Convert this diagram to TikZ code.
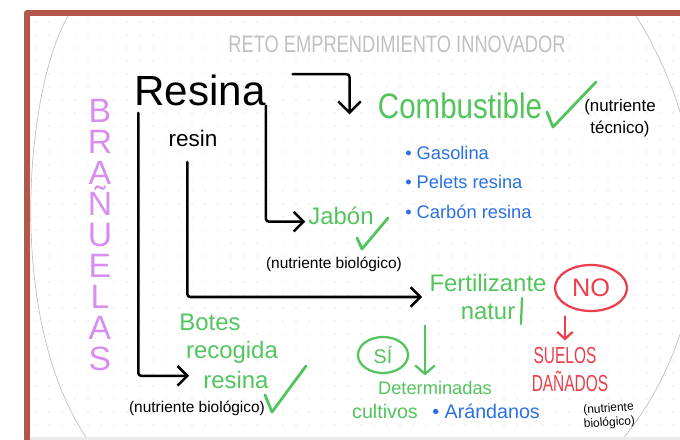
\documentclass[tikz,border=0pt]{standalone}
\usepackage{fontspec}
\setmainfont{Liberation Sans}
\usetikzlibrary{positioning,arrows.meta,shapes.geometric}

\definecolor{frameRed}{RGB}{178,86,74}
\definecolor{penGreen}{RGB}{82,196,92}
\definecolor{penBlue}{RGB}{42,112,228}
\definecolor{penRed}{RGB}{236,62,76}
\definecolor{penPurple}{RGB}{216,142,240}
\definecolor{penGray}{RGB}{192,192,192}
\definecolor{dotGray}{RGB}{205,205,205}

\begin{document}
\begin{tikzpicture}[x=0.025cm, y=-0.025cm,
    pen/.style = {line width=1.8pt, line cap=round, line join=round, rounded corners=2pt},
    arr/.style = {pen, -{Straight Barb[length=7pt,width=14pt]}},
    garr/.style = {arr, penGreen, line width=1.6pt},
    rarr/.style = {arr, penRed, line width=1.6pt, -{Straight Barb[length=5pt,width=11pt]}},
    tick/.style = {penGreen, line width=2pt, line cap=round, line join=round},
    word/.style = {inner sep=0pt},
    green/.style = {word, text=penGreen},
    blue/.style = {word, text=penBlue, anchor=west, font=\fontsize{13}{15}\selectfont},
    note/.style = {word, font=\fontsize{11}{13}\selectfont},
    ring/.style = {ellipse, draw, line width=1.6pt, inner sep=0pt}]
    \useasboundingbox (0,0) rectangle (680,440);
    \begin{scope}
        \clip (30,16) rectangle (680,440);
        \foreach \x in {36,49,...,680}
            \foreach \y in {22,35,...,440}
                \fill[dotGray] (\x,\y) circle (0.5pt);
        \draw[penGray, line width=0.5pt] (68,16) .. controls (25,90) and (5,320) .. (88,440);
        \draw[penGray, line width=0.5pt] (636,16) .. controls (720,150) and (720,320) .. (622,440);
        \fill[black!8] (30,437) rectangle (680,440);
    \end{scope}
    \draw[frameRed, line width=4.3pt, line join=round] (27,440) -- (27,13) -- (680,13);

    \node[word, text=penGray, font=\fontsize{13}{15}\selectfont] (title) at (397,44) {\scalebox{1}[1.3]{RETO EMPRENDIMIENTO INNOVADOR}};
    \node[word, font=\fontsize{30}{32}\selectfont] (resina) at (200,90) {Resina};
    \node[word, font=\fontsize{16}{18}\selectfont] (resin) at (193,138) {resin};
    \node[green, font=\fontsize{21}{23}\selectfont] (combustible) at (460,106) {\scalebox{1}[1.2]{Combustible}};
    \node[note, align=center, font=\fontsize{12}{16}\selectfont] (ntecnico) at (620,118) {(nutriente\\técnico)};
    \node[blue] (gasolina) at (405,153) {• Gasolina};
    \node[blue] (pelets) at (405,182) {• Pelets resina};
    \node[blue] (carbon) at (405,212) {• Carbón resina};
    \node[green, font=\fontsize{17}{19}\selectfont] (jabon) at (341,216) {Jabón};
    \node[note] (nbio1) at (334,264) {(nutriente biológico)};
    \node[green, align=center, font=\fontsize{17}{20}\selectfont] (fert) at (488,297) {Fertilizante\\natur};
    \node[green, font=\fontsize{17}{19}\selectfont] (botes1) at (210,322) {Botes};
    \node[green, font=\fontsize{17}{19}\selectfont] (botes2) at (232,352) {recogida};
    \node[green, font=\fontsize{17}{19}\selectfont] (botes3) at (236,380) {resina};
    \node[note] (nbio2) at (197,408) {(nutriente biológico)};
    \node[ring, draw=penGreen, text=penGreen, minimum width=1.25cm, minimum height=0.9cm,
          font=\fontsize{14}{16}\selectfont] (si) at (383,355) {SÍ};
    \node[green, font=\fontsize{13}{15}\selectfont] (determ) at (435,388) {Determinadas};
    \node[green, font=\fontsize{14}{16}\selectfont] (cultivos) at (385,411) {cultivos};
    \node[blue, font=\fontsize{14}{16}\selectfont] (arandanos) at (432,411) {• Arándanos};
    \node[ring, draw=penRed, text=penRed, minimum width=1.8cm, minimum height=1.15cm,
          font=\fontsize{18}{20}\selectfont] (no) at (591,288) {NO};
    \node[word, text=penRed, font=\fontsize{11}{13}\selectfont] (suelos) at (565,356) {\scalebox{1}[1.5]{SUELOS}};
    \node[word, text=penRed, font=\fontsize{11}{13}\selectfont] (danados) at (570,381) {\scalebox{1}[1.5]{DAÑADOS}};
    \node[note, align=center, rotate=4, font=\fontsize{8.5}{10}\selectfont] (nbio3) at (609,416) {(nutriente\\biológico)};
    \node[word, text=penPurple, align=center, font=\fontsize{24}{22}\selectfont] (branuelas) at (100,235)
        {B\\R\\A\\Ñ\\U\\E\\L\\A\\S};

    \draw[arr, -{Straight Barb[length=8pt,width=16pt]}] ([xshift=19pt]resina.north east) -| ([xshift=-20pt,yshift=-6pt]combustible.west);
    \draw[arr] (resina.south east) |- ([xshift=-2pt,yshift=-4pt]jabon.west);
    \draw[arr] ([xshift=-4pt,yshift=-11pt]resin.south) |- ([xshift=-5pt]fert.west);
    \draw[arr] ([xshift=3pt,yshift=-5pt]resina.south west) |- ([xshift=-10pt,yshift=3pt]botes3.west);
    \draw[garr, -{Straight Barb[length=6pt,width=14pt]}] ([xshift=-3pt,yshift=-4pt]fert.south west) -- ([xshift=-3pt,yshift=4pt]fert.south west |- determ.north);
    \draw[rarr] ([yshift=-3pt]no.south -| suelos.north) -- ([yshift=5pt]suelos.north);
    \draw[penGreen, line width=1.6pt, line cap=round] (522,298) -- (521,324);

    \draw[tick] (547,112) -- (553,127) -- (596,82);
    \draw[tick] (357,238) -- (362,249) -- (388,218);
    \draw[tick] (265,395) -- (272,412) -- (306,366);
\end{tikzpicture}
\end{document}
